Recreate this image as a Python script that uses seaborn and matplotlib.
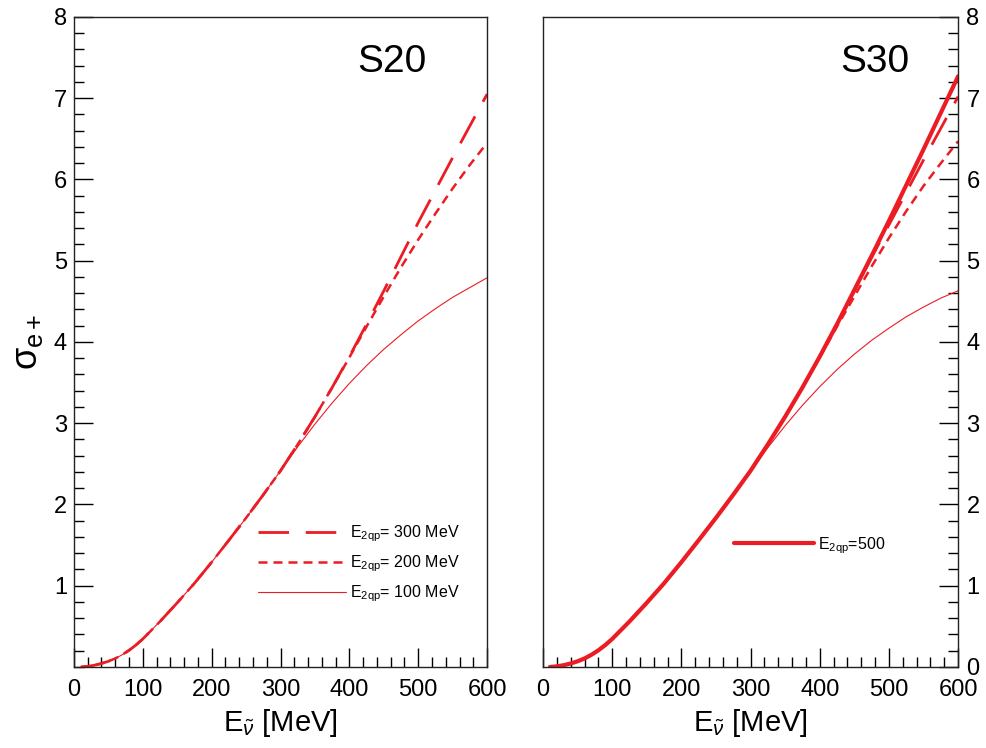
import numpy as np
import pandas as pd
import seaborn as sns
import matplotlib.pyplot as plt
from matplotlib.lines import Line2D
from matplotlib.ticker import MultipleLocator

# ================================
# Data
# ================================
energy = [10, 20, 30, 40, 50, 60, 70, 80, 90, 100, 125, 150, 175, 200, 225, 250, 275, 300,
          325, 350, 375, 400, 425, 450, 475, 500, 525, 550, 575, 600]

common = [0.0, 0.008, 0.022, 0.043, 0.07, 0.105, 0.15, 0.205, 0.27, 0.345,
          0.56, 0.79, 1.03, 1.29, 1.56, 1.835, 2.12, 2.415]

# S20 panel
s20_300 = common + [2.74, 3.08, 3.44, 3.82, 4.22, 4.63, 5.05, 5.47, 5.87, 6.27, 6.66, 7.05]
s20_200 = common + [2.74, 3.08, 3.44, 3.81, 4.19, 4.56, 4.92, 5.26, 5.58, 5.89, 6.18, 6.45]
s20_100 = common + [2.71, 2.99, 3.25, 3.49, 3.71, 3.91, 4.09, 4.26, 4.41, 4.55, 4.67, 4.79]

# S30 panel
s30_500 = common + [2.74, 3.08, 3.44, 3.82, 4.22, 4.64, 5.06, 5.49, 5.93, 6.37, 6.82, 7.27]
s30_300 = common + [2.74, 3.08, 3.44, 3.82, 4.22, 4.63, 5.04, 5.44, 5.84, 6.24, 6.63, 7.02]
s30_200 = common + [2.74, 3.08, 3.44, 3.81, 4.19, 4.56, 4.93, 5.28, 5.61, 5.92, 6.2, 6.47]
s30_100 = common + [2.7, 2.97, 3.22, 3.45, 3.66, 3.85, 4.02, 4.17, 4.31, 4.43, 4.54, 4.63]

RED = "#ec1c24"
styles = {
    "300": dict(lw=2.0, linestyle=(0, (11, 6))),
    "200": dict(lw=1.8, linestyle=(0, (3.6, 2.4))),
    "100": dict(lw=0.8, linestyle="-"),
    "500": dict(lw=3.0, linestyle="-"),
}

sns.set_theme(style="ticks")
plt.rcParams["font.family"] = ["Liberation Sans", "DejaVu Sans"]
plt.rcParams["mathtext.fontset"] = "custom"
plt.rcParams["mathtext.rm"] = "Liberation Sans"
plt.rcParams["mathtext.it"] = "Liberation Sans:italic"
plt.rcParams["text.color"] = "black"
plt.rcParams["axes.labelcolor"] = "black"

fig = plt.figure(figsize=(9.86, 7.48), dpi=100)
ax1 = fig.add_axes([0.075, 0.1083, 0.419, 0.869])
ax2 = fig.add_axes([0.5507, 0.1083, 0.421, 0.869])


def draw(ax, y, key):
    df = pd.DataFrame({"E": energy, "sigma": y})
    sns.lineplot(data=df, x="E", y="sigma", ax=ax, color=RED, **styles[key])


draw(ax1, s20_300, "300")
draw(ax1, s20_200, "200")
draw(ax1, s20_100, "100")

draw(ax2, s30_300, "300")
draw(ax2, s30_200, "200")
draw(ax2, s30_100, "100")
draw(ax2, s30_500, "500")

for ax in (ax1, ax2):
    ax.set_xlim(0, 600)
    ax.set_ylim(0, 8)
    ax.xaxis.set_major_locator(MultipleLocator(100))
    ax.xaxis.set_minor_locator(MultipleLocator(20))
    ax.yaxis.set_major_locator(MultipleLocator(1))
    ax.yaxis.set_minor_locator(MultipleLocator(0.2))
    ax.tick_params(which="both", direction="in", top=False, colors="black",
                   labelsize=17, width=1)
    ax.tick_params(which="major", length=14)
    ax.tick_params(which="minor", length=7)
    ax.tick_params(axis="x", pad=9)
    ax.set_xlabel(r"E$_{\tilde{\nu}}$ [MeV]", fontsize=21, color="black")
    for s in ax.spines.values():
        s.set_color("#222222")
        s.set_linewidth(1.0)

ax1.tick_params(axis="y", left=True, right=False, pad=5)
ax1.set_yticks(range(1, 9))
ax1.set_ylabel(r"σ$_{\mathrm{e+}}$", fontsize=26, labelpad=6, color="black")

ax2.yaxis.tick_right()
ax2.tick_params(axis="y", left=False, right=True, labelleft=False,
                labelright=True, pad=6)
ax2.set_ylabel("")

ax1.text(0.77, 0.93, "S20", transform=ax1.transAxes, fontsize=28,
         ha="center", va="center", color="black")
ax2.text(0.80, 0.93, "S30", transform=ax2.transAxes, fontsize=28,
         ha="center", va="center", color="black")

h = {k: Line2D([], [], color=RED, **v) for k, v in styles.items()}
ax1.legend([h["300"], h["200"], h["100"]],
           [r"E$_{\mathrm{2qp}}$= 300 MeV", r"E$_{\mathrm{2qp}}$= 200 MeV",
            r"E$_{\mathrm{2qp}}$= 100 MeV"],
           loc="upper left", bbox_to_anchor=(0.41, 0.243), frameon=False,
           fontsize=11.5, handlelength=5.5, labelspacing=0.6, handletextpad=0.3)
ax2.legend([h["500"]], [r"E$_{\mathrm{2qp}}$=500"],
           loc="upper left", bbox_to_anchor=(0.425, 0.225), frameon=False,
           fontsize=11.5, handlelength=5.0, handletextpad=0.3)

fig.savefig("out.png", dpi=100)
